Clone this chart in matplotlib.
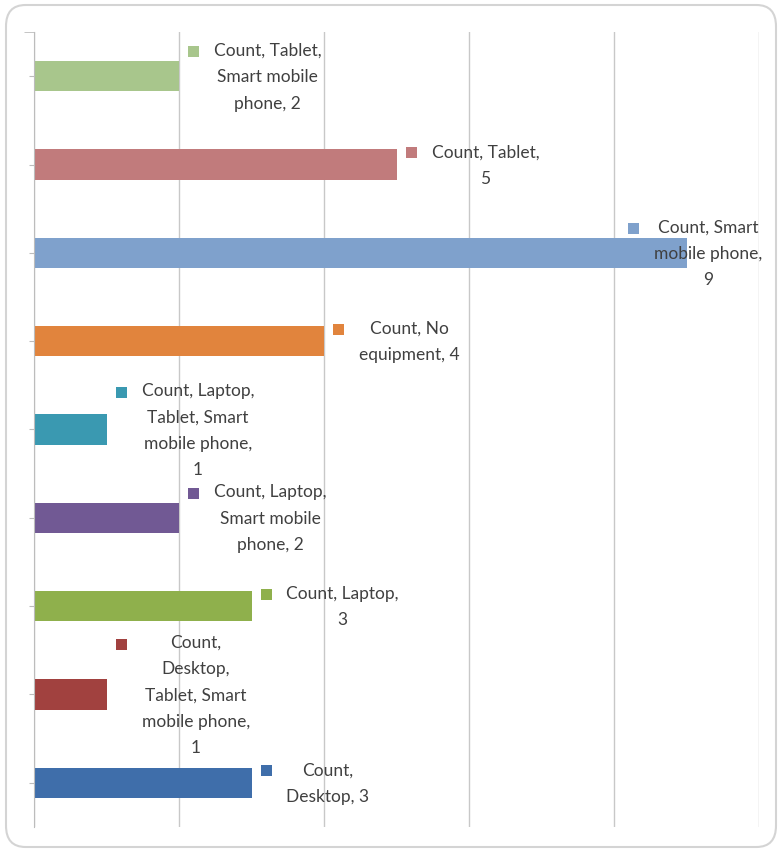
import matplotlib.pyplot as plt
from matplotlib.patches import FancyBboxPatch, Rectangle
from matplotlib.transforms import IdentityTransform

# Equipment combinations, bottom to top
categories = [
    "Desktop",
    "Desktop, Tablet, Smart mobile phone",
    "Laptop",
    "Laptop, Smart mobile phone",
    "Laptop, Tablet, Smart mobile phone",
    "No equipment",
    "Smart mobile phone",
    "Tablet",
    "Tablet, Smart mobile phone",
]
counts = [3, 1, 3, 2, 1, 4, 9, 5, 2]
colors = ["#3f6eaa", "#a1413f", "#8fb04c", "#715994", "#3a99b1",
          "#e1843d", "#7fa1cc", "#c17b7c", "#a8c68c"]
labels = [
    "Count,\nDesktop, 3",
    "Count,\nDesktop,\nTablet, Smart\nmobile phone,\n1",
    "Count, Laptop,\n3",
    "Count, Laptop,\nSmart mobile\nphone, 2",
    "Count, Laptop,\nTablet, Smart\nmobile phone,\n1",
    "Count, No\nequipment, 4",
    "Count, Smart\nmobile phone,\n9",
    "Count, Tablet,\n5",
    "Count, Tablet,\nSmart mobile\nphone, 2",
]

plt.rcParams['font.family'] = ['Lato', 'DejaVu Sans']

W, H, DPI = 782, 854, 100
fig = plt.figure(figsize=(W / DPI, H / DPI), dpi=DPI)
fig.patch.set_facecolor('white')

# rounded chart border
border = FancyBboxPatch((6 / W, 6 / H), 1 - 12 / W, 1 - 12 / H,
                        boxstyle="round,pad=0,rounding_size=0.025",
                        transform=fig.transFigure, facecolor='white',
                        edgecolor='#d4d4d4', linewidth=1.5, zorder=-10)
fig.patches.append(border)

ax = fig.add_axes([34 / W, 1 - 828 / H, (759 - 34) / W, (828 - 33) / H])
ax.set_facecolor('none')
y = list(range(len(categories)))
ax.barh(y, counts, height=0.34, color=colors, zorder=2)

ax.set_xlim(0, 10)
ax.set_ylim(-0.5, 8.5)
ax.set_xticks([0, 2, 4, 6, 8, 10])
ax.xaxis.grid(True, color='#c8c8c8', linewidth=1)
ax.set_axisbelow(True)
ax.tick_params(axis='x', length=0, labelbottom=False)
ax.set_yticks(y)
ax.set_yticks([8.5], minor=True)
ax.tick_params(axis='y', which='major', direction='inout', length=7,
               color='#bcbcbc', labelleft=False)
ax.tick_params(axis='y', which='minor', direction='out', length=7,
               color='#bcbcbc')
for s in ['top', 'right', 'bottom']:
    ax.spines[s].set_visible(False)
ax.spines['left'].set_color('#bcbcbc')

px = 72 / DPI  # points per pixel
texts = []
for yi, v, lab in zip(y, counts, labels):
    t = ax.annotate(lab, xy=(v, yi), xytext=(35 * px, 0),
                    textcoords='offset points', ha='left', va='center',
                    multialignment='center', fontsize=12.5, color='#404040',
                    linespacing=1.8, zorder=3, annotation_clip=False)
    texts.append(t)

# keep labels inside the chart frame, then add the colour key squares
fig.canvas.draw()
r = fig.canvas.get_renderer()
for t, c, lab in zip(texts, colors, labels):
    bb = t.get_window_extent(r)
    over = bb.x1 - (W - 20)
    if over > 0:
        t.xyann = (t.xyann[0] - over * px, 0)
        fig.canvas.draw()
        bb = t.get_window_extent(r)
    nlines = lab.count("\n") + 1
    lh = bb.height / nlines
    cy = bb.y1 - lh * 0.45
    fig.patches.append(Rectangle((bb.x0 - 26, cy - 5), 11, 11,
                                 transform=IdentityTransform(),
                                 facecolor=c, edgecolor='none', zorder=10))

fig.savefig('out.png', dpi=DPI)
